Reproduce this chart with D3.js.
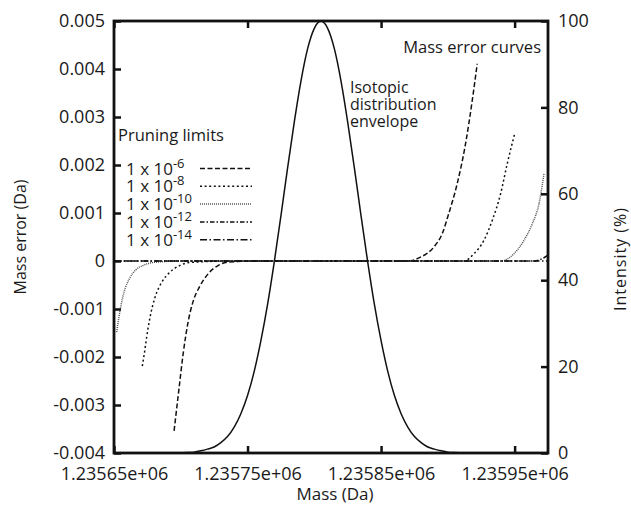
<!DOCTYPE html>
<html>
<head>
<meta charset="utf-8">
<script src="https://cdn.jsdelivr.net/npm/d3@7"></script>
<style>
  body { margin: 0; background: #fff; }
  text { font-family: "Open Sans", sans-serif; fill: #1a1a1a; }
</style>
</head>
<body>
<div id="plt"></div>
<script>
// axis ticks
const errTicks = [-0.004, -0.003, -0.002, -0.001, 0, 0.001, 0.002, 0.003, 0.004, 0.005];
const intTicks = [0, 20, 40, 60, 80, 100];
const massTicks = [1235650, 1235750, 1235850, 1235950];

// pruning limits (exponent of 10)
const limitExps = [-6, -8, -10, -12, -14];

// mass error curves (mass in Da, error in Da)
const mass6 = [1235695, 1235698.8, 1235701.8, 1235705.7, 1235709.5, 1235714, 1235720.7, 1235728.2, 1235735.7, 1235760, 1235800, 1235840, 1235870, 1235879.5, 1235889.5, 1235895.8, 1235900.7, 1235907, 1235913.3, 1235918.3, 1235922];
const err6 = [-0.00354, -0.00263, -0.00193, -0.00124, -0.00082, -0.00054, -0.00026, -0.00009, -0.00002, 0, 0, 0, 0, 0.00008, 0.00029, 0.00057, 0.00099, 0.00161, 0.00245, 0.00335, 0.00411];

const mass8 = [1235671.2, 1235672.7, 1235674.5, 1235677, 1235680.8, 1235685.8, 1235692, 1235699.5, 1235707, 1235740, 1235800, 1235860, 1235900, 1235912, 1235919.5, 1235927, 1235933.3, 1235939.5, 1235944.5, 1235950.2];
const err8 = [-0.00219, -0.00193, -0.00158, -0.00117, -0.00075, -0.00044, -0.00023, -0.00009, -0.00003, 0, 0, 0, 0, 0, 0.00015, 0.00043, 0.00085, 0.0014, 0.00203, 0.00267];

const mass10 = [1235652, 1235653.3, 1235655, 1235657.5, 1235661.5, 1235666.5, 1235672, 1235679.5, 1235700, 1235800, 1235900, 1235930, 1235939.5, 1235949.5, 1235957, 1235963.3, 1235968.3, 1235972];
const err10 = [-0.00148, -0.00124, -0.00096, -0.00065, -0.00037, -0.00018, -0.00009, -0.00003, 0, 0, 0, 0, 0, 0.00015, 0.00043, 0.00078, 0.0012, 0.00182];

const mass12 = [1235650, 1235750, 1235850, 1235950, 1235965, 1235970, 1235975];
const err12 = [0, 0, 0, 0, 0, 0.00004, 0.00012];

const mass14 = [1235650, 1235750, 1235850, 1235950, 1235975];
const err14 = [0, 0, 0, 0, 0];

// isotopic distribution envelope (mass in Da, intensity in %)
const envMass = [1235695, 1235700, 1235705, 1235710, 1235715, 1235720, 1235725, 1235730, 1235735, 1235740, 1235745, 1235750, 1235755, 1235760, 1235765, 1235770, 1235775, 1235780, 1235785, 1235790, 1235795, 1235800, 1235805, 1235810, 1235815, 1235820, 1235825, 1235830, 1235835, 1235840, 1235845, 1235850, 1235855, 1235860, 1235865, 1235870, 1235875, 1235880, 1235885, 1235890, 1235895, 1235900, 1235905, 1235910, 1235915];
const envInt = [0, 0.05, 0.1, 0.2, 0.5, 0.9, 1.4, 2.4, 3.8, 6.0, 9.1, 13.3, 18.9, 26.0, 34.4, 44.2, 54.9, 66.0, 76.6, 86.1, 93.6, 98.3, 100, 98.3, 93.6, 86.1, 76.6, 66.0, 54.9, 44.2, 34.4, 26.0, 18.9, 13.3, 9.1, 6.0, 3.8, 2.4, 1.4, 0.9, 0.5, 0.2, 0.1, 0.05, 0];

const curves = [[mass6, err6], [mass8, err8], [mass10, err10], [mass12, err12], [mass14, err14]];

// line styles per pruning limit
const dashes = ["5,2.5", "2,2.6", "1,1", "4.5,2,1.5,2", "7,2.5,1.5,2.5"];
const strokes = ["#111", "#111", "#555", "#111", "#111"];

const W = 631, H = 506;
const margin = { top: 21, right: 83, bottom: 53, left: 114 };

const svg = d3.select("#plt")
    .append("svg")
    .attr("width", W)
    .attr("height", H);

const x = d3.scaleLinear()
    .domain([1235650, 1235975])
    .range([margin.left, W - margin.right]);
const y = d3.scaleLinear()
    .domain([-0.004, 0.005])
    .range([H - margin.bottom, margin.top]);
const yI = d3.scaleLinear()
    .domain([0, 100])
    .range([H - margin.bottom, margin.top]);

svg.append("clipPath").attr("id", "clip")
  .append("rect")
    .attr("x", margin.left).attr("y", margin.top)
    .attr("width", W - margin.left - margin.right)
    .attr("height", H - margin.top - margin.bottom);

const plot = svg.append("g").attr("clip-path", "url(#clip)");

// envelope
plot.append("path")
    .attr("d", d3.line()
        .x((d, i) => x(envMass[i]))
        .y(d => yI(d))
        .curve(d3.curveMonotoneX)(envInt))
    .attr("fill", "none")
    .attr("stroke", "#111")
    .attr("stroke-width", 1.5);

// mass error curves
curves.forEach(([m, e], k) => {
  plot.append("path")
      .attr("d", d3.line()
          .x((d, i) => x(m[i]))
          .y(d => y(d))
          .curve(d3.curveMonotoneX)(e))
      .attr("fill", "none")
      .attr("stroke", strokes[k])
      .attr("stroke-width", 1.5)
      .attr("stroke-dasharray", dashes[k]);
});

// axes
const fmtErr = d => d === 0 ? "0" : String(+d.toFixed(3));
const fmtMass = d => d.toExponential(5).replace(/e\+(\d)$/, "e+0$1");

const axL = svg.append("g")
    .attr("transform", `translate(${margin.left},0)`)
    .call(d3.axisLeft(y).tickValues(errTicks).tickSizeInner(-7).tickSizeOuter(0)
      .tickPadding(9).tickFormat(fmtErr));
const axR = svg.append("g")
    .attr("transform", `translate(${W - margin.right},0)`)
    .call(d3.axisRight(yI).tickValues(intTicks).tickSizeInner(-7).tickSizeOuter(0)
      .tickPadding(10));
const axB = svg.append("g")
    .attr("transform", `translate(0,${H - margin.bottom})`)
    .call(d3.axisBottom(x).tickValues(massTicks).tickSizeInner(-7).tickSizeOuter(0)
      .tickPadding(14).tickFormat(fmtMass));
const axT = svg.append("g")
    .attr("transform", `translate(0,${margin.top})`)
    .call(d3.axisTop(x).tickValues(massTicks).tickSizeInner(-7).tickSizeOuter(0)
      .tickFormat(""));

[axL, axR, axB, axT].forEach(g => {
  g.select(".domain").remove();
  g.selectAll(".tick line").attr("stroke", "#111").attr("stroke-width", 2.5);
  g.selectAll(".tick text").attr("font-size", 18).attr("fill", "#1a1a1a")
    .style("font-family", '"Open Sans", sans-serif');
});

svg.append("rect")
    .attr("x", margin.left).attr("y", margin.top)
    .attr("width", W - margin.left - margin.right)
    .attr("height", H - margin.top - margin.bottom)
    .attr("fill", "none")
    .attr("stroke", "#111")
    .attr("stroke-width", 2.8);

// axis titles
svg.append("text")
    .attr("transform", `translate(26,${(margin.top + H - margin.bottom) / 2}) rotate(-90)`)
    .attr("text-anchor", "middle")
    .attr("font-size", 16)
    .text("Mass error (Da)");
svg.append("text")
    .attr("transform", `translate(626,${(margin.top + H - margin.bottom) / 2 + 22}) rotate(-90)`)
    .attr("text-anchor", "middle")
    .attr("font-size", 16)
    .attr("letter-spacing", 1)
    .text("Intensity (%)");
svg.append("text")
    .attr("x", (margin.left + W - margin.right) / 2 + 4)
    .attr("y", 500)
    .attr("text-anchor", "middle")
    .attr("font-size", 17)
    .text("Mass (Da)");

// annotations
svg.append("text")
    .attr("x", 541).attr("y", 53)
    .attr("text-anchor", "end")
    .attr("font-size", 16.5)
    .text("Mass error curves");

["Isotopic", "distribution", "envelope"].forEach((s, i) => {
  svg.append("text")
      .attr("x", 350).attr("y", 93 + i * 17)
      .attr("font-size", 16)
      .text(s);
});

// legend
svg.append("text")
    .attr("x", 118).attr("y", 141)
    .attr("font-size", 16.5)
    .text("Pruning limits");

const leg = svg.append("g");
limitExps.forEach((p, i) => {
  const cy = 168.5 + i * 17.8;
  const t = leg.append("text")
      .attr("x", 126).attr("y", cy + 6)
      .attr("font-size", 17);
  t.append("tspan").text("1 x 10");
  t.append("tspan").attr("dy", -7).attr("font-size", 13).text(p);
  leg.append("line")
      .attr("x1", 200).attr("x2", 252)
      .attr("y1", cy).attr("y2", cy)
      .attr("stroke", strokes[i])
      .attr("stroke-width", 1.5)
      .attr("stroke-dasharray", dashes[i]);
});
</script>
</body>
</html>
